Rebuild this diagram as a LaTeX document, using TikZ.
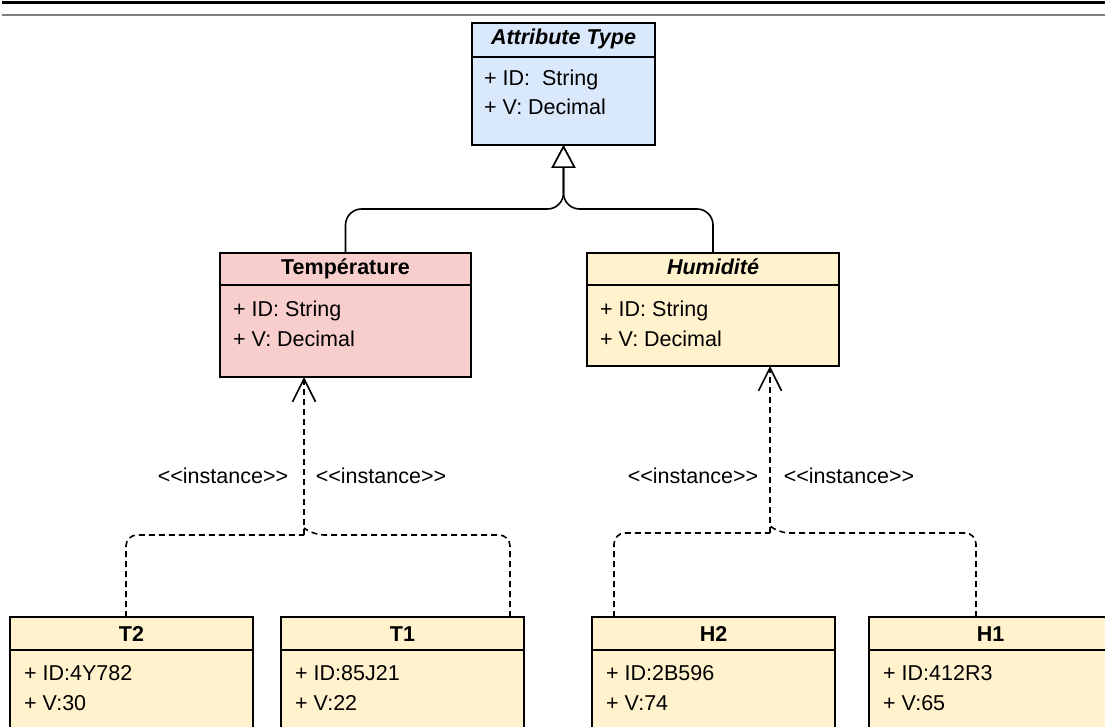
\documentclass[tikz,border=0pt]{standalone}
\usepackage{fontspec}
\setmainfont{Liberation Sans}[Ligatures=TeXOff]
\usetikzlibrary{arrows.meta,calc}

\definecolor{fillBlue}{HTML}{DAE8FC}
\definecolor{fillRed}{HTML}{F8CECC}
\definecolor{fillYellow}{HTML}{FFF2CC}
\definecolor{ruleGray}{HTML}{7F7F7F}

\newcommand\umlfont{\fontsize{21.5pt}{26pt}\selectfont}

\tikzset{
  classbox/.style={draw=black, line width=1.8pt, rectangle, anchor=north west,
                   inner sep=0pt, outer sep=0pt},
  divider/.style={draw=black, line width=1.8pt},
  headtext/.style={font=\umlfont\bfseries, anchor=base, inner sep=0pt},
  attrtext/.style={font=\umlfont, anchor=base west, inner sep=0pt},
  lbl/.style={font=\umlfont, inner sep=0pt},
  genline/.style={draw=black, line width=1.6pt, rounded corners=16pt},
  genhead/.style={-{Triangle[open, length=23pt, width=24pt, fill=white]}},
  instline/.style={draw=black, line width=1.6pt, dash pattern=on 6pt off 4pt,
                   rounded corners=11pt},
  insthead/.style={-{Straight Barb[length=23pt, width=23pt]}},
}

\begin{document}
\begin{tikzpicture}[x=1pt, y=-1pt]
  \clip (0,0) rectangle (1105,727);
  \fill[white] (0,0) rectangle (1105,727);

  % page rules
  \draw[line width=2.4pt] (2,2.6) -- (1105,2.6);
  \draw[ruleGray, line width=1.6pt] (2,14.8) -- (1105,14.8);

  % ---------- class boxes ----------
  \node[classbox, fill=fillBlue,   minimum width=183pt, minimum height=122pt] (attr) at (472,23) {};
  \node[classbox, fill=fillRed,    minimum width=251pt, minimum height=124pt] (temp) at (220,253) {};
  \node[classbox, fill=fillYellow, minimum width=252pt, minimum height=113pt] (hum)  at (587,253) {};
  \node[classbox, fill=fillYellow, minimum width=243pt, minimum height=150pt] (t2)   at (10,617) {};
  \node[classbox, fill=fillYellow, minimum width=243pt, minimum height=150pt] (t1)   at (281,617) {};
  \node[classbox, fill=fillYellow, minimum width=243pt, minimum height=150pt] (h2)   at (592,617) {};
  \node[classbox, fill=fillYellow, minimum width=243pt, minimum height=150pt] (h1)   at (869,617) {};

  % header separators
  \foreach \n/\d in {attr/34, temp/32, hum/32, t2/33, t1/33, h2/33, h1/33}{
    \draw[divider] ($(\n.north west)+(0,\d)$) -- ($(\n.north east)+(0,\d)$);
  }

  % ---------- texts ----------
  \node[headtext] at ($(attr.north)+(0,22)$) {\itshape Attribute Type};
  \node[attrtext] at ($(attr.north west)+(12,63)$) {+ ID:\ \ String};
  \node[attrtext] at ($(attr.north west)+(12,92)$) {+ V: Decimal};

  \node[headtext] at ($(temp.north)+(0,22)$) {Température};
  \node[attrtext] at ($(temp.north west)+(13,63)$) {+ ID: String};
  \node[attrtext] at ($(temp.north west)+(13,93)$) {+ V: Decimal};

  \node[headtext] at ($(hum.north)+(0,22)$) {\itshape Humidité};
  \node[attrtext] at ($(hum.north west)+(13,63)$) {+ ID: String};
  \node[attrtext] at ($(hum.north west)+(13,93)$) {+ V: Decimal};

  \node[headtext] at ($(t2.north)+(0,24)$) {T2};
  \node[attrtext] at ($(t2.north west)+(14,63)$) {+ ID:4Y782};
  \node[attrtext] at ($(t2.north west)+(14,93)$) {+ V:30};

  \node[headtext] at ($(t1.north)+(0,24)$) {T1};
  \node[attrtext] at ($(t1.north west)+(14,63)$) {+ ID:85J21};
  \node[attrtext] at ($(t1.north west)+(14,93)$) {+ V:22};

  \node[headtext] at ($(h2.north)+(0,24)$) {H2};
  \node[attrtext] at ($(h2.north west)+(14,63)$) {+ ID:2B596};
  \node[attrtext] at ($(h2.north west)+(14,93)$) {+ V:74};

  \node[headtext] at ($(h1.north)+(0,24)$) {H1};
  \node[attrtext] at ($(h1.north west)+(14,63)$) {+ ID:412R3};
  \node[attrtext] at ($(h1.north west)+(14,93)$) {+ V:65};

  % ---------- generalization ----------
  \coordinate (gj) at ($(attr.south)+(0,64)$);
  \draw[genline, genhead] (temp.north) |- (gj) -- (attr.south);
  \draw[genline, genhead] (hum.north)  |- (gj) -- (attr.south);

  % ---------- instance links: temperature ----------
  \coordinate (tarr)  at ($(temp.south west)+(84,0)$);
  \coordinate (tjoin) at ($(tarr)+(0,158)$);
  \coordinate (tkink) at ($(tjoin)+(9,0)$);
  \coordinate (tstem) at ($(tjoin)+(0,-7)$);
  \coordinate (t2pt)  at ($(t2.north west)+(116,0)$);
  \coordinate (t1pt)  at ($(t1.north west)+(229,0)$);
  \draw[instline] (t2pt) |- (tjoin);
  \draw[instline] (t1pt) |- (tkink) -- (tstem);
  \draw[instline, insthead] (tjoin) -- (tarr);

  % ---------- instance links: humidity ----------
  \coordinate (harr)  at ($(hum.south west)+(183,0)$);
  \coordinate (hjoin) at ($(harr)+(0,167)$);
  \coordinate (hkink) at ($(hjoin)+(8,0)$);
  \coordinate (hstem) at ($(hjoin)+(0,-7)$);
  \coordinate (h2pt)  at ($(h2.north west)+(22,0)$);
  \coordinate (h1pt)  at ($(h1.north west)+(107,0)$);
  \draw[instline] (h2pt) |- (hjoin);
  \draw[instline] (h1pt) |- (hkink) -- (hstem);
  \draw[instline, insthead] (hjoin) -- (harr);

  % ---------- stereotype labels ----------
  \node[lbl] (lblt2) at (223,476) {<<instance>>};
  \node[lbl] (lblt1) at (381,476) {<<instance>>};
  \node[lbl] (lblh2) at (693,476) {<<instance>>};
  \node[lbl] (lblh1) at (849,476) {<<instance>>};
\end{tikzpicture}
\end{document}
